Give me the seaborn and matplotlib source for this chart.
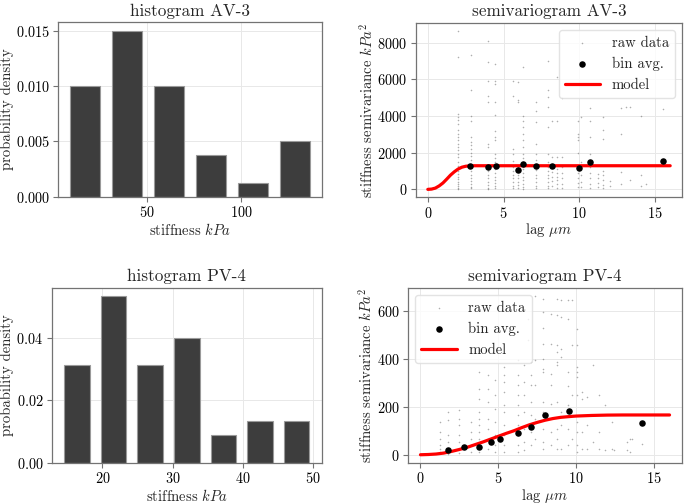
import matplotlib
matplotlib.use("Agg")
import matplotlib.pyplot as plt
import seaborn as sns
import pandas as pd

# ---------------- data ----------------
# histogram AV-3 (bin edges, counts)
av3_edges = [6.2, 28.4, 50.6, 72.8, 95.0, 117.2, 139.4]
av3_counts = [8, 12, 8, 3, 1, 4]
# histogram PV-4
pv4_edges = [13.76, 18.97, 24.18, 29.39, 34.60, 39.81, 45.02, 50.23]
pv4_counts = [7, 12, 7, 9, 2, 3, 3]

# semivariogram AV-3: raw data columns (lag, values)
av3_raw_cols = [
    (2.0, [8667, 7213, 4125, 3943, 3761, 3580, 3216, 3034, 2853, 2671, 2489, 2308, 2126, 1944, 1762,
           1500, 1300, 1150, 1000, 850, 700, 560, 420, 300, 180, 80, 20]),
    (2.83, [7340, 5450, 4000, 3760, 2850, 2600, 2400, 2200, 2000, 1800, 1600, 1400, 1200, 1000, 800,
            600, 450, 300, 150, 50]),
    (3.97, [8120, 6940, 5940, 5120, 4760, 2470, 2290, 1200, 1000, 800, 600, 400, 250, 100, 30]),
    (4.45, [6850, 5900, 5740, 4760, 4070, 3210, 2850, 2670, 1950, 1700, 1500, 1300, 1100, 900, 700,
            500, 350, 200, 80]),
    (5.61, [5940, 5120, 2200, 1950, 1560, 1200, 1000, 800, 600, 400, 200, 60]),
    (5.96, [5880, 4900, 4760, 1200, 1000, 800, 600, 400, 250, 100]),
    (6.27, [6700, 4030, 3760, 3400, 3030, 2670, 2310, 1950, 1700, 1500, 1300, 1100, 900, 700, 500,
            300, 150, 40]),
    (7.16, [4760, 4300, 3700, 2490, 1950, 1600, 1300, 1050, 800, 600, 400, 200, 50]),
    (7.95, [7030, 5400, 5030, 4490, 3400, 1950, 1500, 1200, 1000, 800, 600, 400, 200, 50]),
    (8.17, [3760, 1760, 1200, 950, 700, 450, 200]),
    (8.5, [6120, 3760, 1760, 1100, 900, 700, 500, 300, 100]),
    (8.87, [5000, 1760, 1200, 900, 600, 300, 100]),
    (9.92, [3760, 3030, 2850, 2670, 2000, 1200, 900, 600, 350, 150]),
    (10.1, [3940, 1500, 800, 400, 150]),
    (10.7, [4420, 3760, 2850, 1950, 1500, 1200, 900, 600, 300, 100]),
    (11.24, [850, 600, 350, 120]),
    (11.59, [3940, 3220, 2760, 1030, 800, 500, 250, 80]),
    (12.0, [450, 200]),
    (12.73, [4450, 3030, 940, 300]),
    (13.07, [4490]),
    (13.32, [4490, 500]),
    (14.08, [4000, 760, 200]),
    (14.4, [300]),
    (15.5, [4400]),
]
av3_bin_lag = [2.80, 3.96, 4.47, 5.98, 6.28, 7.16, 8.19, 9.96, 10.69, 15.52]
av3_bin_val = [1273, 1218, 1291, 1055, 1364, 1291, 1273, 1164, 1491, 1564]
av3_model_lag = [0, 0.25, 0.5, 0.75, 1.0, 1.25, 1.5, 1.75, 2.0, 2.25, 2.5, 2.75, 3.0, 4, 6, 8, 10, 12, 14, 16]
av3_model_val = [0, 15, 70, 190, 350, 560, 780, 960, 1110, 1210, 1262, 1283, 1290, 1290, 1290, 1290,
                 1290, 1290, 1290, 1290]

# semivariogram PV-4
pv4_raw_cols = [
    (1.25, [137, 95, 67, 39, 25, 11]),
    (1.74, [178, 143, 81, 53, 25, 11, 4]),
    (2.49, [185, 150, 123, 81, 53, 25, 8]),
    (3.24, [137, 95, 67, 39, 11]),
    (3.74, [345, 276, 234, 178, 150, 123, 95, 67, 39, 11]),
    (4.32, [332, 276, 220, 150, 109, 67, 25]),
    (4.79, [311, 248, 192, 137, 81, 39, 11]),
    (5.39, [366, 332, 304, 262, 206, 178, 123, 81, 39, 11]),
    (6.25, [394, 332, 290, 248, 206, 164, 123, 81, 39, 11]),
    (6.68, [373, 304, 248, 178, 109, 53, 18]),
    (6.9, [567, 480]),
    (7.1, [387, 332, 290, 220, 164, 95, 39]),
    (7.33, [664, 394, 290, 150, 67]),
    (7.89, [652, 596, 527, 464, 400, 359, 345, 220, 178, 109, 53, 25]),
    (8.38, [589, 464, 338, 290, 213, 95, 39]),
    (8.75, [652, 582, 457, 429, 386, 373, 220, 109, 67, 25]),
    (9.03, [645, 575, 443, 408, 178, 123, 25]),
    (9.5, [645, 568, 345, 288, 206, 109, 39]),
    (9.76, [645, 457, 248, 67]),
    (10.04, [525, 457, 366, 345, 325, 248, 137, 95, 39, 11]),
    (10.36, [262, 234, 95, 25]),
    (10.68, [241, 123, 25]),
    (11.1, [373, 53]),
    (11.5, [248, 95, 25]),
    (11.86, [206, 18]),
    (12.3, [137, 25]),
    (12.4, [18]),
    (13.25, [53, 18]),
    (13.46, [67, 11]),
    (13.57, [65]),
    (14.2, [46]),
]
pv4_bin_lag = [1.76, 2.80, 3.74, 4.52, 5.14, 6.26, 7.08, 8.00, 9.53, 14.26]
pv4_bin_val = [21, 31, 33, 53, 65, 89, 114, 164, 184, 134]
pv4_model_lag = [0, 0.5, 1, 1.5, 2, 2.5, 3, 3.5, 4, 4.5, 5, 5.5, 6, 6.5, 7, 7.5, 8, 8.5, 9, 9.5, 10,
                 11, 12, 13, 14, 15, 16]
pv4_model_val = [0, 1, 3, 7, 14, 22, 31, 42, 53, 65, 77, 89, 100, 113, 125, 135, 144, 151, 156, 159,
                 161.5, 164, 165.5, 166, 166, 166, 166]

# ---------------- style ----------------
sns.set_theme(style="whitegrid")
plt.rcParams.update({
    "font.family": "serif",
    "font.serif": ["cmr10", "DejaVu Serif"],
    "mathtext.fontset": "cm",
    "axes.formatter.use_mathtext": True,
    "axes.unicode_minus": False,
    "axes.edgecolor": "0.45",
    "axes.linewidth": 0.9,
    "axes.labelpad": 1.5,
    "grid.color": "#e8e8e8",
    "grid.linewidth": 0.7,
    "xtick.bottom": True,
    "ytick.left": True,
    "xtick.major.size": 3.5,
    "ytick.major.size": 3.5,
    "xtick.major.width": 0.8,
    "ytick.major.width": 0.8,
    "xtick.major.pad": 2.5,
    "ytick.major.pad": 2.5,
    "xtick.color": "0.45",
    "ytick.color": "0.45",
    "xtick.labelcolor": "black",
    "ytick.labelcolor": "black",
    "xtick.labelsize": 10.3,
    "ytick.labelsize": 10.3,
    "axes.labelsize": 10.6,
    "axes.titlesize": 12.3,
    "axes.titlepad": 4.5,
    "legend.fontsize": 10.6,
})

W, H = 686, 504
fig = plt.figure(figsize=(W / 100, H / 100), dpi=100)


def rect(x0, y0, x1, y1):
    return [x0 / W, (H - y1) / H, (x1 - x0) / W, (y1 - y0) / H]


ax_h1 = fig.add_axes(rect(58.3, 22.3, 321.7, 196.7))
ax_s1 = fig.add_axes(rect(415.7, 22.7, 682.3, 197.3))
ax_h2 = fig.add_axes(rect(51.7, 287.7, 321.7, 462.7))
ax_s2 = fig.add_axes(rect(408.0, 287.7, 682.0, 462.7))


def hist_panel(ax, edges, counts, title, xticks, yticks):
    centers = [(a + b) / 2 for a, b in zip(edges[:-1], edges[1:])]
    df = pd.DataFrame({"x": centers, "w": counts})
    sns.histplot(data=df, x="x", weights="w", bins=edges, stat="density", shrink=0.7,
                 color="#3d3d3d", edgecolor="#9a9a9a", linewidth=0.8, alpha=1.0, ax=ax)
    ax.set_title(title)
    ax.set_xlabel(r"stiffness $kPa$")
    ax.set_ylabel("probability density")
    ax.set_xticks(xticks)
    ax.set_yticks(yticks)


def semi_panel(ax, cols, bin_lag, bin_val, mlag, mval, title, yticks, legloc):
    rl = [lag for lag, vals in cols for _ in vals]
    rv = [v for lag, vals in cols for v in vals]
    sns.scatterplot(x=rl, y=rv, s=1.3, color="0.3", alpha=0.45, linewidth=0, ax=ax, label="raw data")
    sns.scatterplot(x=bin_lag, y=bin_val, s=22, color="black", linewidth=0, ax=ax,
                    label="bin avg.", zorder=4)
    sns.lineplot(x=mlag, y=mval, color="red", linewidth=2.3, ax=ax, label="model", zorder=3)
    ax.set_title(title)
    ax.set_xlabel(r"lag $\mu m$", labelpad=0.5)
    ax.set_ylabel(r"stiffness semivariance $kPa^2$")
    ax.set_xticks([0, 5, 10, 15])
    ax.set_yticks(yticks)
    leg = ax.legend(loc=legloc, frameon=True, fancybox=True, handlelength=2.4)
    leg.get_frame().set_edgecolor("#dddddd")


hist_panel(ax_h1, av3_edges, av3_counts, "histogram AV-3", [50, 100],
           [0.0, 0.005, 0.010, 0.015])
hist_panel(ax_h2, pv4_edges, pv4_counts, "histogram PV-4", [20, 30, 40, 50],
           [0.0, 0.02, 0.04])
semi_panel(ax_s1, av3_raw_cols, av3_bin_lag, av3_bin_val, av3_model_lag, av3_model_val,
           "semivariogram AV-3", [0, 2000, 4000, 6000, 8000], "upper right")
semi_panel(ax_s2, pv4_raw_cols, pv4_bin_lag, pv4_bin_val, pv4_model_lag, pv4_model_val,
           "semivariogram PV-4", [0, 200, 400, 600], "upper left")

for ax in (ax_h1, ax_h2, ax_s1, ax_s2):
    for s in ax.spines.values():
        s.set_visible(True)

fig.savefig("out.png", dpi=100)
